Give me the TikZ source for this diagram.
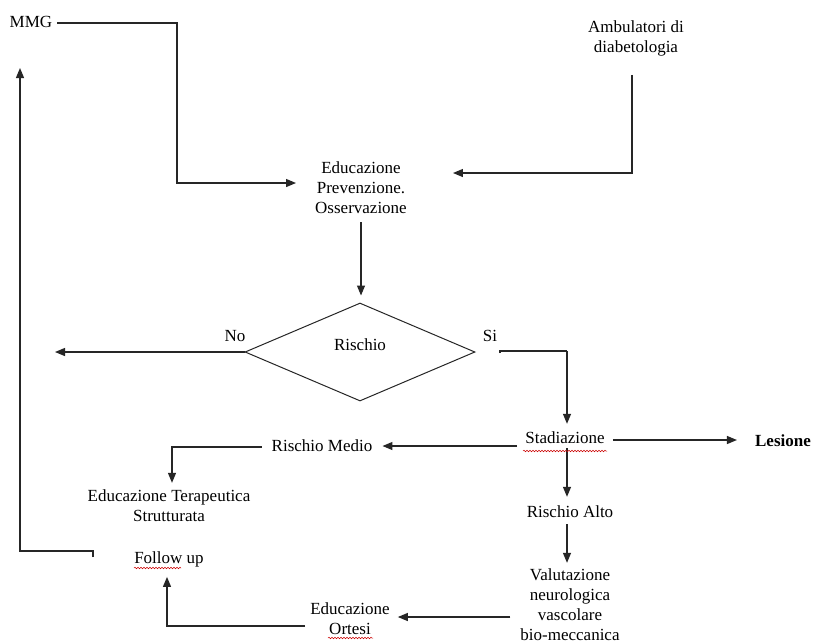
\documentclass[tikz,border=0pt]{standalone}
\usepackage{fontspec}
\setmainfont{Liberation Serif}
\usetikzlibrary{arrows.meta,shapes.geometric,decorations.pathmorphing,calc}
\begin{document}
\begin{tikzpicture}[x=1pt,y=-1pt,
  txt/.style={font=\fontsize{17}{20}\selectfont, align=center, inner sep=0pt, text=black},
  conn/.style={line width=1.2pt, draw=black!85},
  arr/.style={conn, -{Triangle[length=10pt,width=8pt]}},
  squig/.style={draw=red!80!black, line width=0.5pt, decorate, decoration={snake, amplitude=0.8pt, segment length=3pt}}]
\useasboundingbox (0,0) rectangle (816,641);
\fill[white] (0,0) rectangle (816,641);

% nodes
\node[txt] (mmg) at (31,22) {MMG};
\node[txt] (amb) at (636,38) {Ambulatori di\\diabetologia};
\node[txt] (edu) at (361,188) {Educazione\\Prevenzione.\\Osservazione};
\node[draw=black!85, line width=1pt, diamond, minimum width=230pt, minimum height=98pt, inner sep=0pt] (dia) at (360,352) {};
\node[txt] (rtext) at (360,345) {Rischio};
\node[txt] (no) at (235,336) {No};
\node[txt] (si) at (490,336) {Si};
\node[txt] (stad) at (565,438) {Stadiazione};
\node[txt] (medio) at (322,446) {Rischio Medio};
\node[txt, font=\fontsize{17}{20}\selectfont\bfseries] (les) at (783,441) {Lesione};
\node[txt] (alto) at (570,512) {Rischio Alto};
\node[txt] (valut) at (570,605) {Valutazione\\neurologica\\vascolare\\bio-meccanica};
\node[txt] (ortesi) at (350,619) {Educazione\\Ortesi};
\node[txt] (ets) at (169,506) {Educazione Terapeutica\\Strutturata};
\node[txt] (follow) at (169,559) {Follow up};

\coordinate (noend) at (55,352);
\coordinate (fuup) at (20,68);

% connectors
\draw[arr] ([xshift=5pt,yshift=-1pt]mmg.east) -| (177,183) -- ([xshift=-19pt,yshift=5pt]edu.west);
\draw[arr] ([xshift=-4pt,yshift=-19pt]amb.south) |- ([xshift=46pt,yshift=15pt]edu.east);
\draw[arr] ([yshift=-8pt]edu.south) -- ([yshift=7pt]edu.south |- dia.north);
\draw[arr] (dia.west) -- (noend);
\draw[conn] (500,353) -- (500,351) -- (567,351);
\draw[arr] (567,351) -- ([xshift=2pt,yshift=8pt]stad.north);
\draw[arr] ([xshift=-8pt,yshift=-8pt]stad.west) -- ([xshift=10pt,yshift=0pt]medio.east);
\draw[arr] ([xshift=8pt,yshift=-2pt]stad.east) -- ([xshift=-18pt,yshift=1pt]les.west);
\draw[arr] ([xshift=2pt,yshift=-4pt]stad.south) -- ([xshift=-3pt,yshift=9pt]alto.north);
\draw[arr] ([xshift=-3pt,yshift=-6pt]alto.south) -- ([xshift=-3pt,yshift=6pt]valut.north);
\draw[arr] ([xshift=-10pt,yshift=-12pt]valut.west) -- ([xshift=8pt,yshift=2pt]ortesi.east);
\draw[arr] ([xshift=-5pt,yshift=-7pt]ortesi.west) -| ([xshift=-2pt,yshift=-10pt]follow.south);
\draw[arr] ([xshift=-10pt,yshift=-1pt]medio.west) -| ([xshift=3pt,yshift=7pt]ets.north);
\draw[arr] ([xshift=-41pt,yshift=2pt]follow.west) -- ++(0,-6) -| (fuup);

% spell-check squiggles
\draw[squig] (523,451) -- (607,451);
\draw[squig] (134,568) -- (181,568);
\draw[squig] (328,638) -- (373,638);
\end{tikzpicture}
\end{document}
